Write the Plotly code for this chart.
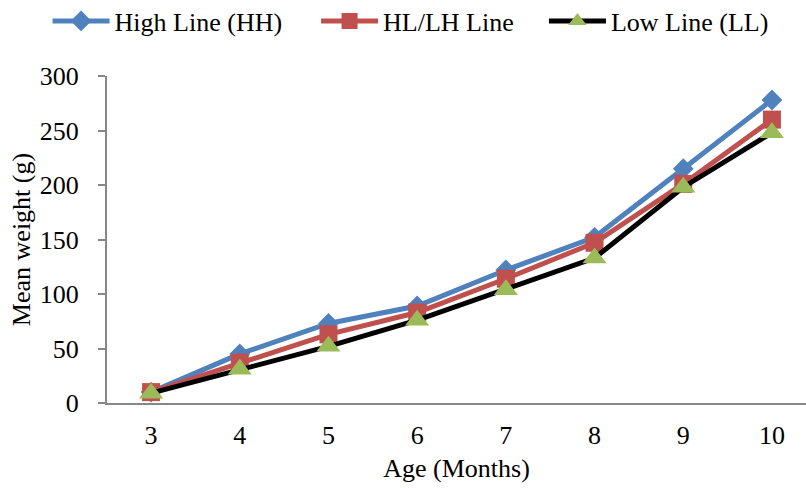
import plotly.graph_objects as go

months = [3, 4, 5, 6, 7, 8, 9, 10]
high_line = [10, 45, 73, 89, 122, 152, 215, 278]
hl_lh_line = [10, 37, 63, 83, 114, 147, 201, 260]
low_line = [9, 31, 52, 76, 104, 133, 198, 248]
y_ticks = [0, 50, 100, 150, 200, 250, 300]

FONT = "Liberation Serif, Times New Roman, serif"
FS = 26

fig = go.Figure()
fig.add_trace(go.Scatter(
    x=months, y=high_line, name="High Line (HH)", mode="lines+markers",
    line=dict(color="#4F81BD", width=5),
    marker=dict(symbol="diamond", size=16, color="#4F81BD"),
    legend="legend",
))
fig.add_trace(go.Scatter(
    x=months, y=hl_lh_line, name="HL/LH Line", mode="lines+markers",
    line=dict(color="#C0504D", width=5),
    marker=dict(symbol="square", size=18, color="#C0504D"),
    legend="legend2",
))
fig.add_trace(go.Scatter(
    x=months, y=low_line, name="Low Line (LL)", mode="lines+markers",
    line=dict(color="#000000", width=5),
    marker=dict(symbol="triangle-up", size=21, color="#9BBB59"),
    legend="legend3",
))

def leg(xpos):
    return dict(
        orientation="h", x=xpos, xanchor="left", y=1.24, yref="paper",
        yanchor="top", font=dict(size=FS, family=FONT),
        itemwidth=57, bgcolor="rgba(0,0,0,0)",
    )

fig.update_layout(
    width=806, height=488,
    margin=dict(l=107, r=0, t=76, b=85, autoexpand=False),
    paper_bgcolor="white", plot_bgcolor="white",
    font=dict(family=FONT, size=FS, color="#000000"),
    showlegend=True,
    legend=leg(-0.085),
    legend2=leg(0.2991),
    legend3=leg(0.6251),
    xaxis=dict(
        range=[2.503, 10.384], tickvals=months, ticktext=[str(m) for m in months],
        showgrid=False, zeroline=False, showline=True, linecolor="#868686", linewidth=2,
        ticks="outside", ticklen=8, tickcolor="rgba(0,0,0,0)",
        title=dict(text="Age (Months)", font=dict(size=FS, family=FONT), standoff=10),
        tickfont=dict(size=FS, family=FONT),
    ),
    yaxis=dict(
        range=[0, 300], tickvals=y_ticks, showgrid=False, zeroline=False,
        showline=True, linecolor="#868686", linewidth=2,
        ticks="outside", ticklen=7, tickcolor="#868686", tickwidth=1.5,
        ticklabelstandoff=14,
        title=dict(text="Mean weight (g)", font=dict(size=FS, family=FONT), standoff=2),
        tickfont=dict(size=FS, family=FONT),
    ),
)

fig.write_html("out.html")
